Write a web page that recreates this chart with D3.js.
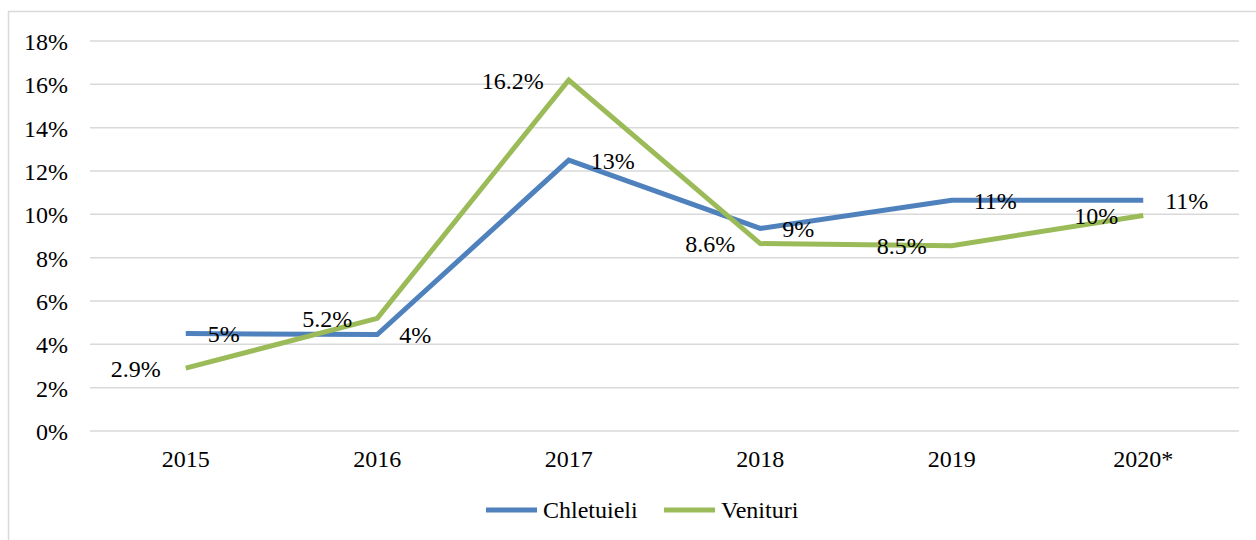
<!DOCTYPE html>
<html>
<head>
<meta charset="utf-8">
<script src="https://cdn.jsdelivr.net/npm/d3@7"></script>
</head>
<body style="margin:0">
<svg id="chart" width="1256" height="540" font-family="Times New Roman" font-size="24"></svg>
<script>
let years = ["2015", "2016", "2017", "2018", "2019", "2020*"];
let chletuieli = [4.5, 4.45, 12.5, 9.35, 10.65, 10.65];
let chletuieliLabels = ["5%", "4%", "13%", "9%", "11%", "11%"];
let venituri = [2.9, 5.2, 16.2, 8.65, 8.55, 9.95];
let venituriLabels = ["2.9%", "5.2%", "16.2%", "8.6%", "8.5%", "10%"];
let yTicks = [0, 2, 4, 6, 8, 10, 12, 14, 16, 18];

let margin = {container_width: 1256, container_height: 540, top: 41, left: 90, right: 17, bottom: 109},
    width = margin.container_width - margin.left - margin.right,
    height = margin.container_height - margin.top - margin.bottom;

let root = d3.select("#chart");

// outer chart frame
root.append("rect")
    .attr("x", 8.5)
    .attr("y", 11.5)
    .attr("width", 1260)
    .attr("height", 540)
    .attr("fill", "none")
    .attr("stroke", "#d9d9d9")
    .attr("stroke-width", 1.5);

let svg = root.append("g")
    .attr("transform", "translate(" + margin.left + "," + margin.top + ")");

let x = d3.scaleBand()
    .domain(years)
    .range([0, width]);

let y = d3.scaleLinear()
    .domain([0, 18])
    .range([height, 0]);

// gridlines
svg.append("g")
    .selectAll("line")
    .data(yTicks)
    .enter()
    .append("line")
    .attr("x1", 0)
    .attr("x2", width)
    .attr("y1", function(d) { return y(d); })
    .attr("y2", function(d) { return y(d); })
    .attr("stroke", "#d9d9d9")
    .attr("stroke-width", 1.5);

let yAxis = svg.append("g")
    .call(d3.axisLeft(y).tickValues(yTicks).tickSize(0).tickPadding(22).tickFormat(function(d) { return d + "%"; }));
yAxis.select(".domain").remove();
// drop the axis' own sans-serif so the svg font is inherited
yAxis.attr("font-family", null).attr("font-size", null);
yAxis.selectAll("text")
    .attr("fill", "#000")
    .attr("dy", "0.35em");

let xAxis = svg.append("g")
    .attr("transform", "translate(0," + height + ")")
    .call(d3.axisBottom(x).tickSize(0).tickPadding(19));
xAxis.select(".domain").remove();
xAxis.attr("font-family", null).attr("font-size", null);
xAxis.selectAll("text")
    .attr("fill", "#000");

let line = d3.line()
    .x(function(d, i) { return x(years[i]) + x.bandwidth() / 2; })
    .y(function(d) { return y(d); });

let series = [
    {name: "Chletuieli", values: chletuieli, labels: chletuieliLabels, color: "#4f81bd", dx: 22, anchor: "start"},
    {name: "Venituri", values: venituri, labels: venituriLabels, color: "#9bbb59", dx: -25, anchor: "end"}
];

series.forEach(function(s) {
    svg.append("path")
        .datum(s.values)
        .attr("fill", "none")
        .attr("stroke", s.color)
        .attr("stroke-width", 5)
        .attr("d", line);
});

series.forEach(function(s) {
    svg.append("g")
        .selectAll("text")
        .data(s.values)
        .enter()
        .append("text")
        .attr("x", function(d, i) { return x(years[i]) + x.bandwidth() / 2 + s.dx; })
        .attr("y", function(d) { return y(d); })
        .attr("dy", "0.36em")
        .attr("text-anchor", s.anchor)
        .attr("fill", "#000")
        .text(function(d, i) { return s.labels[i]; });
});

// legend
let legend = root.append("g").attr("transform", "translate(486,510)");
let legendX = [0, 178];
series.forEach(function(s, i) {
    let g = legend.append("g").attr("transform", "translate(" + legendX[i] + ",0)");
    g.append("line")
        .attr("x1", 0).attr("x2", 51)
        .attr("y1", 0).attr("y2", 0)
        .attr("stroke", s.color)
        .attr("stroke-width", 5);
    g.append("text")
        .attr("x", 57)
        .attr("y", 0)
        .attr("dy", "0.33em")
        .attr("fill", "#000")
        .text(s.name);
});
</script>
</body>
</html>
